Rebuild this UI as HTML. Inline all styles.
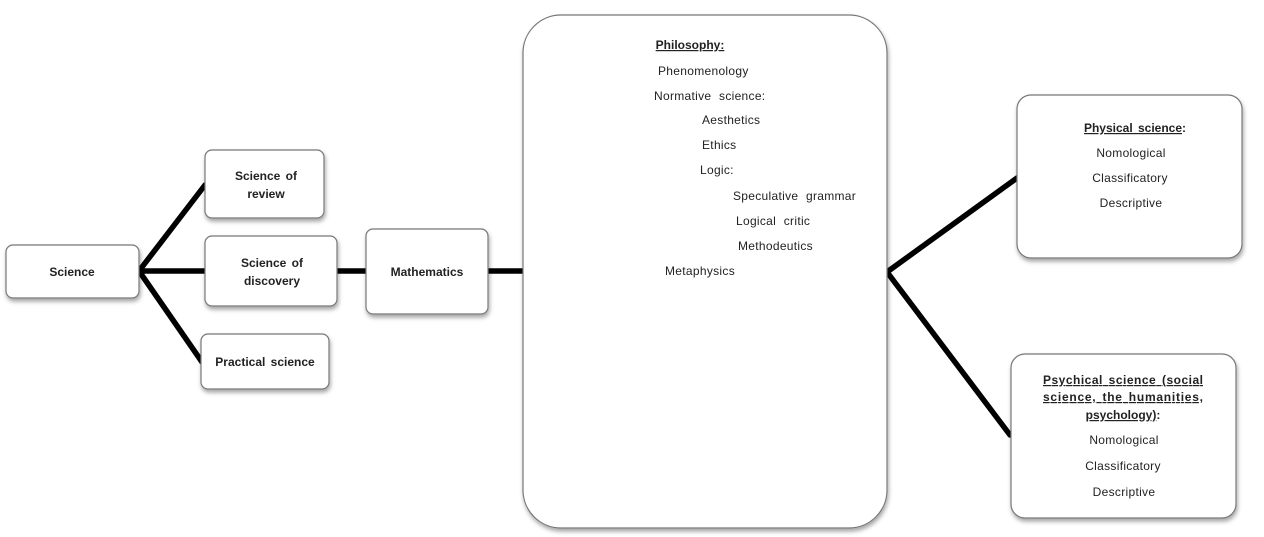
<!DOCTYPE html>
<html><head><meta charset="utf-8"><style>
html,body{margin:0;padding:0;background:#fff;width:1264px;height:537px;overflow:hidden}
svg text{font-family:"Liberation Sans",sans-serif;font-size:12px;fill:#222;letter-spacing:0.3px;word-spacing:4px}
.b{font-weight:bold;letter-spacing:0;word-spacing:2px}
</style></head><body>
<svg width="1264" height="537" viewBox="0 0 1264 537" xmlns="http://www.w3.org/2000/svg">
<defs><filter id="sh" x="-10%" y="-10%" width="120%" height="130%"><feDropShadow dx="1" dy="3" stdDeviation="2" flood-color="#000" flood-opacity="0.35"/></filter></defs>
<g stroke="#000" stroke-width="5.5" stroke-linecap="round" fill="none">
<line x1="139" y1="271" x2="205" y2="185"/>
<line x1="139" y1="271" x2="205" y2="271"/>
<line x1="139" y1="271" x2="202" y2="362"/>
<line x1="337" y1="271" x2="366" y2="271"/>
<line x1="488" y1="271" x2="524" y2="271"/>
<line x1="887" y1="272" x2="1017" y2="178"/>
<line x1="887" y1="272" x2="1010" y2="435"/>
</g>
<g fill="#fff" stroke="#777" stroke-width="1.2" filter="url(#sh)">
<rect x="6" y="245" width="133" height="53" rx="7"/>
<rect x="205" y="150" width="119" height="68" rx="7"/>
<rect x="205" y="236" width="132" height="70" rx="7"/>
<rect x="201" y="334" width="128" height="55" rx="7"/>
<rect x="366" y="229" width="122" height="85" rx="7"/>
<rect x="523" y="15" width="364" height="513" rx="38"/>
<rect x="1017" y="95" width="225" height="163" rx="14"/>
<rect x="1011" y="354" width="225" height="164" rx="14"/>
</g>
<text class="b" x="72" y="276" text-anchor="middle">Science</text>
<text class="b" x="266" y="180" text-anchor="middle">Science  of</text>
<text class="b" x="266" y="198" text-anchor="middle">review</text>
<text class="b" x="272" y="267" text-anchor="middle">Science  of</text>
<text class="b" x="272" y="285" text-anchor="middle">discovery</text>
<text class="b" x="265" y="366" text-anchor="middle">Practical  science</text>
<text class="b" x="427" y="276" text-anchor="middle">Mathematics</text>
<text class="b" x="690" y="49" text-anchor="middle" text-decoration="underline">Philosophy:</text>
<text x="658" y="75">Phenomenology</text>
<text x="654" y="100">Normative science:</text>
<text x="702" y="124">Aesthetics</text>
<text x="702" y="149">Ethics</text>
<text x="700" y="174">Logic:</text>
<text x="733" y="200">Speculative grammar</text>
<text x="736" y="225">Logical critic</text>
<text x="738" y="250">Methodeutics</text>
<text x="665" y="275">Metaphysics</text>
<text class="b" x="1135" y="132" text-anchor="middle"><tspan text-decoration="underline">Physical  science</tspan>:</text>
<text x="1131" y="157" text-anchor="middle">Nomological</text>
<text x="1130" y="182" text-anchor="middle">Classificatory</text>
<text x="1131" y="207" text-anchor="middle">Descriptive</text>
<text class="b" x="1043" y="384" textLength="160" lengthAdjust="spacing" text-decoration="underline">Psychical science (social</text>
<text class="b" x="1043" y="401" textLength="160" lengthAdjust="spacing" text-decoration="underline">science, the humanities,</text>
<text class="b" x="1123" y="419" text-anchor="middle"><tspan text-decoration="underline">psychology)</tspan>:</text>
<text x="1124" y="444" text-anchor="middle">Nomological</text>
<text x="1123" y="470" text-anchor="middle">Classificatory</text>
<text x="1124" y="496" text-anchor="middle">Descriptive</text>
</svg>
</body></html>
